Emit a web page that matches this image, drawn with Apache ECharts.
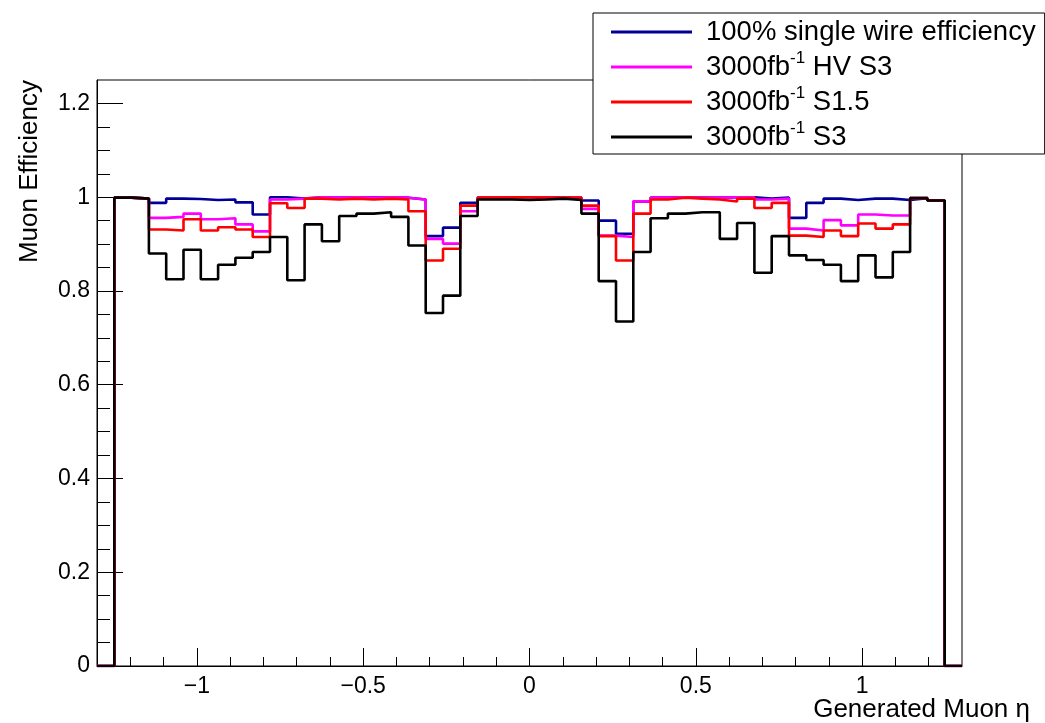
<!DOCTYPE html>
<html>
<head>
<meta charset="utf-8">
<script src="https://cdn.jsdelivr.net/npm/echarts@6/dist/echarts.min.js"></script>
<style>
  html, body { margin: 0; padding: 0; background: #fff; }
  #chart { width: 1045px; height: 723px; }
</style>
</head>
<body>
<div id="chart"></div>
<script>
// histogram: 50 bins from -1.3 to 1.3, first and last bin empty
var etaMin = -1.3;
var binWidth = 0.052;

// efficiency per bin (48 filled bins, eta -1.248 .. 1.248)
var effFull = [
  0.999, 0.997, 0.988, 0.997, 0.996, 0.994, 0.995, 0.989, 0.963, 1.000, 0.997, 1.000,
  0.999, 1.000, 1.000, 1.000, 0.999, 0.995, 0.917, 0.935, 0.988, 0.999, 1.000, 1.000,
  0.999, 0.999, 0.999, 0.993, 0.950, 0.922, 0.991, 0.999, 1.000, 0.999, 0.999, 1.000,
  1.000, 0.997, 0.999, 0.956, 0.988, 0.997, 0.994, 0.997, 0.997, 0.994, 0.998, 0.993
];
var effHVS3 = [
  0.999, 0.997, 0.956, 0.958, 0.965, 0.953, 0.955, 0.942, 0.927, 0.995, 0.997, 1.000,
  0.999, 1.000, 0.999, 1.000, 0.999, 0.995, 0.911, 0.901, 0.970, 0.999, 1.000, 1.000,
  0.999, 0.999, 0.999, 0.975, 0.918, 0.915, 0.991, 0.999, 1.000, 0.999, 0.999, 1.000,
  1.000, 0.995, 0.997, 0.933, 0.929, 0.951, 0.940, 0.963, 0.961, 0.961, 0.998, 0.993
];
var effS15 = [
  0.999, 0.997, 0.931, 0.929, 0.953, 0.929, 0.936, 0.931, 0.915, 0.987, 0.977, 0.997,
  0.995, 0.997, 0.995, 0.997, 0.995, 0.970, 0.865, 0.890, 0.982, 0.999, 1.000, 1.000,
  0.999, 0.999, 0.999, 0.982, 0.917, 0.865, 0.965, 0.995, 0.999, 0.997, 0.995, 0.991,
  0.997, 0.977, 0.988, 0.918, 0.915, 0.929, 0.917, 0.944, 0.933, 0.942, 0.998, 0.993
];
var effS3 = [
  0.999, 0.997, 0.880, 0.825, 0.888, 0.825, 0.856, 0.871, 0.883, 0.915, 0.823, 0.942,
  0.906, 0.960, 0.965, 0.968, 0.958, 0.897, 0.753, 0.790, 0.960, 0.995, 0.995, 0.994,
  0.995, 0.997, 0.994, 0.965, 0.821, 0.735, 0.883, 0.955, 0.965, 0.968, 0.968, 0.911,
  0.945, 0.839, 0.917, 0.876, 0.866, 0.856, 0.821, 0.876, 0.829, 0.883, 0.998, 0.993
];

var seriesNames = ['100% single wire efficiency', '3000fb^-1 HV S3', '3000fb^-1 S1.5', '3000fb^-1 S3'];

// tick values
var xMajorTicks = [-1, -0.5, 0, 0.5, 1];
var xMinorTicks = [-1.2, -1.1, -0.9, -0.8, -0.7, -0.6, -0.4, -0.3, -0.2, -0.1,
                   0.1, 0.2, 0.3, 0.4, 0.6, 0.7, 0.8, 0.9, 1.1, 1.2];
var yMajorTicks = [0, 0.2, 0.4, 0.6, 0.8, 1, 1.2];
var yMinorTicks = [0.05, 0.1, 0.15, 0.25, 0.3, 0.35, 0.45, 0.5, 0.55, 0.65, 0.7, 0.75,
                   0.85, 0.9, 0.95, 1.05, 1.1, 1.15];

// step points: left edge of each bin + closing right edge
function histPoints(vals) {
  var full = [0].concat(vals, [0]);
  var pts = [];
  for (var k = 0; k < full.length; k++) {
    pts.push([Math.round((etaMin + binWidth * k) * 1000) / 1000, full[k]]);
  }
  pts.push([Math.round((etaMin + binWidth * full.length) * 1000) / 1000, 0]);
  return pts;
}

function fmtNum(v) {
  return v < 0 ? '\u2212' + Math.abs(v) : String(v);
}

var font = 'Liberation Sans';
var chart = echarts.init(document.getElementById('chart'));

function histSeries(name, vals, color) {
  return {
    name: name,
    type: 'line',
    step: 'end',
    symbol: 'none',
    showSymbol: false,
    animation: false,
    data: histPoints(vals),
    lineStyle: { color: color, width: 2.6 },
    itemStyle: { color: color }
  };
}

chart.setOption({
  backgroundColor: '#fff',
  animation: false,
  grid: {
    left: 97,
    top: 80,
    width: 865,
    height: 586,
    show: true,
    borderColor: '#000',
    borderWidth: 1,
    backgroundColor: 'transparent'
  },
  legend: {
    orient: 'vertical',
    left: 593,
    top: 13,
    padding: [2, 9, 0, 18],
    icon: 'rect',
    itemWidth: 81,
    itemHeight: 3,
    itemGap: 1,
    backgroundColor: '#fff',
    borderColor: '#000',
    borderWidth: 1,
    borderRadius: 0,
    data: seriesNames,
    formatter: function (name) {
      return name.replace('^-1', '{sup|-1}');
    },
    textStyle: {
      fontFamily: font,
      fontSize: 27.5,
      color: '#000',
      lineHeight: 34,
      padding: [0, 0, 0, 9],
      rich: {
        sup: {
          fontFamily: font,
          fontSize: 17,
          color: '#000',
          lineHeight: 34,
          verticalAlign: 'top',
          padding: [0, 0, 14, 0]
        }
      }
    }
  },
  xAxis: [
    {
      type: 'value',
      min: -1.3,
      max: 1.3,
      axisLine: { show: true, onZero: false, lineStyle: { color: '#000', width: 1 } },
      axisTick: {
        show: true,
        inside: true,
        length: 18,
        customValues: xMajorTicks,
        lineStyle: { color: '#000', width: 1 }
      },
      axisLabel: {
        show: true,
        margin: 9,
        customValues: xMajorTicks,
        formatter: fmtNum,
        fontFamily: font,
        fontSize: 23,
        color: '#000'
      },
      splitLine: { show: false }
    },
    {
      type: 'value',
      min: -1.3,
      max: 1.3,
      position: 'bottom',
      axisLine: { show: false, onZero: false },
      axisTick: {
        show: true,
        inside: true,
        length: 9,
        customValues: xMinorTicks,
        lineStyle: { color: '#000', width: 1 }
      },
      axisLabel: { show: false },
      splitLine: { show: false }
    }
  ],
  yAxis: [
    {
      type: 'value',
      min: 0,
      max: 1.25,
      axisLine: { show: true, onZero: false, lineStyle: { color: '#000', width: 1 } },
      axisTick: {
        show: true,
        inside: true,
        length: 26,
        customValues: yMajorTicks,
        lineStyle: { color: '#000', width: 1 }
      },
      axisLabel: {
        show: true,
        margin: 7,
        customValues: yMajorTicks,
        formatter: fmtNum,
        fontFamily: font,
        fontSize: 23,
        color: '#000'
      },
      splitLine: { show: false }
    },
    {
      type: 'value',
      min: 0,
      max: 1.25,
      position: 'left',
      offset: 0,
      axisLine: { show: false, onZero: false },
      axisTick: {
        show: true,
        inside: true,
        length: 13,
        customValues: yMinorTicks,
        lineStyle: { color: '#000', width: 1 }
      },
      axisLabel: { show: false },
      splitLine: { show: false }
    }
  ],
  graphic: [
    {
      type: 'text',
      x: 30,
      y: 80,
      rotation: Math.PI / 2,
      style: {
        text: 'Muon Efficiency',
        fontFamily: font,
        fontSize: 26,
        fill: '#000',
        align: 'right',
        verticalAlign: 'middle'
      }
    },
    {
      type: 'text',
      x: 1030,
      y: 723,
      style: {
        text: 'Generated Muon \u03b7',
        fontFamily: font,
        fontSize: 26,
        fill: '#000',
        align: 'right',
        verticalAlign: 'bottom'
      }
    }
  ],
  series: [
    histSeries(seriesNames[0], effFull, '#000099'),
    histSeries(seriesNames[1], effHVS3, '#ff00ff'),
    histSeries(seriesNames[2], effS15, '#ff0000'),
    histSeries(seriesNames[3], effS3, '#000000')
  ]
});
</script>
</body>
</html>
